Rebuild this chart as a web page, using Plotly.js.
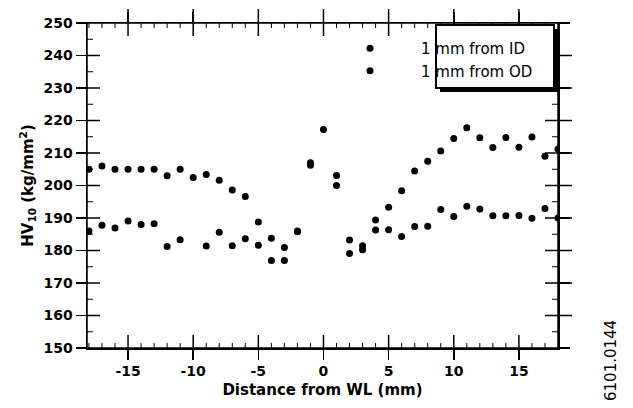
<!DOCTYPE html>
<html><head><meta charset="utf-8">
<script src="https://cdn.plot.ly/plotly-3.0.1.min.js"></script>
<style>html,body{margin:0;padding:0;background:#fff}</style>
</head><body><div id="chart" style="width:633px;height:408px"></div>
<script>
// ---- data ----
const distance = [-18,-17,-16,-15,-14,-13,-12,-11,-10,-9,-8,-7,-6,-5,-4,-3,-2,-1,0,1,2,3,4,5,6,7,8,9,10,11,12,13,14,15,16,17,18];
const hvID = [205,206,205,205,205,205,203,205,202.5,203.4,201.6,198.6,196.6,188.8,183.8,180.9,186,207,217.2,203.1,183.2,181.5,189.4,193.3,198.4,204.5,207.5,210.6,214.5,217.8,214.7,211.7,214.8,211.8,214.9,209,211.2];
const hvOD = [186,187.8,186.9,189.1,188,188.2,181.2,183.3,null,181.4,185.6,181.5,183.6,181.6,176.9,176.9,185.8,206.2,null,200,179.1,180.2,186.3,186.4,184.3,187.4,187.5,192.6,190.5,193.6,192.8,190.7,190.7,190.8,189.9,192.9,190];
const seriesNames = ["1 mm from ID", "1 mm from OD"];
const xTickVals = [-15,-10,-5,0,5,10,15];
const xTickText = ["-15","-10","-5","0","5","10","15"];
const xMinorTickVals = [-18,-17,-16,-14,-13,-12,-11,-9,-8,-7,-6,-4,-3,-2,-1,1,2,3,4,6,7,8,9,11,12,13,14,16,17];
const yTickVals = [150,160,170,180,190,200,210,220,230,240,250];
const yMinorTickVals = [155,165,175,185,195,205,215,225,235,245];
const xRange = [-18.15, 18];
const yRange = [150, 250];
const figureId = "6101.0144";

// ---- layout helpers ----
const W = 633, H = 408, M = {l: 87, r: 75, t: 23, b: 60};
const px2x = p => (p - M.l) / (W - M.l - M.r);
const py2y = p => 1 - (p - M.t) / (H - M.t - M.b);
const FONT = "DejaVu Sans";
const INK = "#000";

// tick marks on the frame, placed through the axis scales (pixel lengths)
const tickShapes = [];
function xTick(v, anchor, len, w) {
  tickShapes.push({type: "line", layer: "above", xref: "x", yref: "paper", ysizemode: "pixel", yanchor: anchor,
    x0: v, x1: v, y0: 0, y1: len, line: {color: INK, width: w}});
}
function yTick(v, anchor, len, w) {
  tickShapes.push({type: "line", layer: "above", xref: "paper", yref: "y", xsizemode: "pixel", xanchor: anchor,
    y0: v, y1: v, x0: 0, x1: len, line: {color: INK, width: w}});
}
xTickVals.forEach(v => { xTick(v, 0, 13, 1.5); xTick(v, 1, -13, 1.5); xTick(v, 1, 14, 1.5); });
xMinorTickVals.forEach(v => { xTick(v, 0, 5, 1); xTick(v, 1, -5, 1); });
yTickVals.slice(1, -1).forEach(v => { yTick(v, 0, 13, 1.5); yTick(v, 1, -13, 1.5); yTick(v, 1, 14, 1.5); });
yMinorTickVals.forEach(v => { yTick(v, 0, 6, 1); yTick(v, 1, -6, 1); });

const mk = {color: INK, size: 7};
const traces = [
  {x: distance, y: hvID, name: seriesNames[0], type: "scatter", mode: "markers", marker: mk},
  {x: distance, y: hvOD, name: seriesNames[1], type: "scatter", mode: "markers", marker: mk}
];

const layout = {
  width: W, height: H,
  margin: M,
  paper_bgcolor: "#fff", plot_bgcolor: "#fff",
  showlegend: true,
  font: {family: FONT, color: INK},
  xaxis: {
    range: xRange, showgrid: false, zeroline: false,
    showline: true, linecolor: INK, linewidth: 1.5, mirror: "ticks",
    tickmode: "array", tickvals: xTickVals, ticktext: xTickText,
    ticks: "outside", ticklen: 10, tickwidth: 1.5, tickcolor: INK,
    tickfont: {family: FONT, size: 14, weight: "bold"},
    title: {text: "Distance from WL (mm)", font: {family: FONT, size: 15, weight: "bold"}, standoff: 6}
  },
  yaxis: {
    range: yRange, showgrid: false, zeroline: false,
    showline: true, linecolor: INK, linewidth: 1.5, mirror: "ticks",
    tickmode: "array", tickvals: yTickVals,
    ticks: "outside", ticklen: 10, tickwidth: 1.5, tickcolor: INK,
    tickfont: {family: FONT, size: 14, weight: "bold"},
    title: {text: "HV<sub>10</sub> (kg/mm<sup>2</sup>)", font: {family: FONT, size: 15, weight: "bold"}, standoff: 6}
  },
  legend: {
    x: px2x(319), xanchor: "left", y: py2y(32), yanchor: "top",
    bgcolor: "rgba(0,0,0,0)", borderwidth: 0, itemwidth: 92, tracegroupgap: 0,
    font: {family: FONT, size: 15, color: INK}
  },
  shapes: [
    {type: "rect", layer: "above", xref: "paper", yref: "paper", x0: 0, x1: 1, y0: 0, y1: 1,
     fillcolor: "rgba(0,0,0,0)", line: {color: INK, width: 1.5}}
  ].concat(tickShapes).concat([
    {type: "rect", layer: "above", xref: "paper", yref: "paper", x0: px2x(440), x1: px2x(558), y0: py2y(92), y1: py2y(29),
     fillcolor: INK, line: {width: 0}},
    {type: "rect", layer: "above", xref: "paper", yref: "paper", x0: px2x(436), x1: px2x(554), y0: py2y(88), y1: py2y(25),
     fillcolor: "#fff", line: {color: INK, width: 2}}
  ]),
  annotations: [
    {text: figureId, xref: "paper", yref: "paper", x: px2x(611), y: py2y(361), textangle: -90,
     showarrow: false, xanchor: "center", yanchor: "middle", font: {family: FONT, size: 15, color: INK}}
  ]
};

Plotly.newPlot("chart", traces, layout, {staticPlot: true, displayModeBar: false});
</script></body></html>
